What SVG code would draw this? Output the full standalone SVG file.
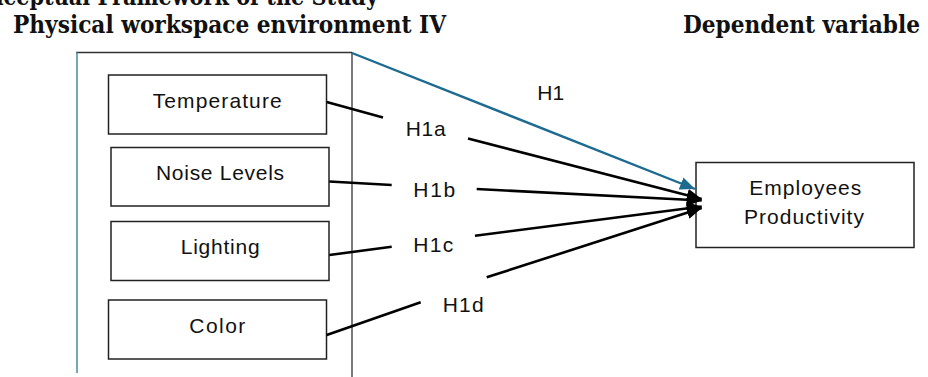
<svg xmlns="http://www.w3.org/2000/svg" width="928" height="377" viewBox="0 0 928 377">
<style>
.title{font-family:"DejaVu Serif","Liberation Serif",serif;font-weight:bold;font-size:24px;fill:#111}
.box{fill:#fff;stroke:#222;stroke-width:1.5}
.lbl{font-family:"Liberation Sans",Arial,sans-serif;font-size:21px;fill:#111}
.conn{stroke:#000;stroke-width:2.6;fill:none}
.frame{stroke:#333;stroke-width:1.3;fill:none}
</style>
<defs>
<marker id="ahBlack" markerUnits="userSpaceOnUse" markerWidth="16" markerHeight="14" refX="15" refY="6.5" orient="auto">
<polygon points="0,0 15,6.5 0,13" fill="#000"/>
</marker>
<marker id="ahBlue" markerUnits="userSpaceOnUse" markerWidth="16" markerHeight="14" refX="15" refY="6.5" orient="auto">
<polygon points="0,0 15,6.5 0,13" fill="#1d6b91"/>
</marker>
</defs>
<rect width="928" height="377" fill="#fff"/>
<g id="titles">
<text class="title" x="-42" y="4.5" textLength="420" lengthAdjust="spacingAndGlyphs">Conceptual Framework of the Study</text>
<text class="title" x="13" y="33" textLength="433" lengthAdjust="spacingAndGlyphs">Physical workspace environment IV</text>
<text class="title" x="683" y="33" textLength="237" lengthAdjust="spacingAndGlyphs">Dependent variable</text>
</g>
<g id="iv-frame">
<line class="frame" x1="76" y1="52.5" x2="352" y2="52.5"/>
<line x1="77" y1="52" x2="77" y2="373" stroke="#3d7fa6" stroke-width="1.4"/>
<line class="frame" x1="352" y1="52" x2="352" y2="377"/>
</g>
<g id="temperature">
<rect class="box" x="108.5" y="75" width="218" height="59"/>
<text class="lbl" x="152.7" y="107.5" textLength="129">Temperature</text>
</g>
<g id="noise">
<rect class="box" x="111" y="147.5" width="218" height="58.5"/>
<text class="lbl" x="156" y="180" textLength="128">Noise Levels</text>
</g>
<g id="lighting">
<rect class="box" x="111" y="221.5" width="218" height="59"/>
<text class="lbl" x="180.7" y="254" textLength="79">Lighting</text>
</g>
<g id="color">
<rect class="box" x="108.5" y="300" width="218" height="59"/>
<text class="lbl" x="189.3" y="332.7" textLength="56">Color</text>
</g>
<g id="productivity">
<rect class="box" x="696" y="162.5" width="218" height="85"/>
<text class="lbl" x="749.3" y="195" textLength="112">Employees</text>
<text class="lbl" x="744" y="224" textLength="120">Productivity</text>
</g>
<g id="connectors">
<line class="conn" x1="326.7" y1="102" x2="383" y2="117.5"/>
<line class="conn" x1="468" y1="138.5" x2="701.7" y2="199" marker-end="url(#ahBlack)"/>
<line class="conn" x1="329.3" y1="181.5" x2="391.7" y2="185"/>
<line class="conn" x1="476.7" y1="189" x2="701.7" y2="200.5" marker-end="url(#ahBlack)"/>
<line class="conn" x1="329.3" y1="255" x2="391.7" y2="246.7"/>
<line class="conn" x1="475" y1="235.7" x2="701.7" y2="206.5" marker-end="url(#ahBlack)"/>
<line class="conn" x1="326.7" y1="335" x2="420.7" y2="302.3"/>
<line class="conn" x1="486.7" y1="277.3" x2="701.7" y2="208" marker-end="url(#ahBlack)"/>
<line x1="352" y1="53" x2="695" y2="189" stroke="#1d6b91" stroke-width="2.4" marker-end="url(#ahBlue)"/>
</g>
<g id="labels">
<text class="lbl" x="537.3" y="100" textLength="27">H1</text>
<text class="lbl" x="405.7" y="136" textLength="40">H1a</text>
<text class="lbl" x="413.3" y="196.7" textLength="42">H1b</text>
<text class="lbl" x="413.3" y="251.7" textLength="40">H1c</text>
<text class="lbl" x="442.7" y="311.7" textLength="41">H1d</text>
</g>
</svg>
